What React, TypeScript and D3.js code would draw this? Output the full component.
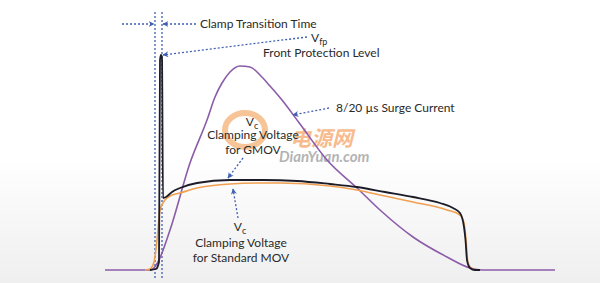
import React from "react";
import * as d3 from "d3";

// time axis (arbitrary µs-like units) and amplitude (arbitrary units)
const surgeCurrent: [number, number][] = [
  [0, 0], [8, 0], [9, 0], [9.8, 1], [10.6, 4], [13, 20], [17, 53.5], [20.4, 75],
  [22, 86.5], [23.4, 93.5], [25, 99], [27, 102], [29, 101.5], [31, 97.5],
  [33, 92], [35.4, 85], [39, 73], [44.4, 55], [50.4, 41], [55, 30],
  [61.6, 16.5], [68.4, 6.5], [73, 1], [75.4, 0], [90, 0],
];
const gmovVoltage: [number, number][] = [
  [9, 0], [10.2, 0.5], [10.8, 4], [11, 105], [11.2, 107.5], [11.4, 106],
  [11.6, 36], [12.2, 36.5], [13.4, 39], [15, 41], [18.4, 43.5], [25, 45],
  [31.6, 45], [38.4, 44.5], [45, 43], [50.4, 41.5], [56, 39], [61.6, 36.5],
  [67, 33.5], [69.6, 31], [71, 28.5], [71.8, 21.5], [72.1, 15], [72.4, 5],
  [73, 1], [74, 0], [75, 0],
];
const movVoltage: [number, number][] = [
  [8, 0], [9, 0.5], [9.8, 4], [10.4, 15], [11, 30], [12, 35], [13, 37],
  [15, 38.5], [18.4, 41], [25, 43], [31.6, 43.5], [35, 43.5], [45, 42],
  [50.4, 40], [56, 37], [61.6, 34], [68.4, 30], [71, 27.5], [71.8, 23.5],
  [72.2, 15], [72.6, 3.5], [73.6, 0.5], [74.6, 0],
];
const transitionMarks = [10, 11.4];
const labels = {
  transition: "Clamp Transition Time",
  vfpSub: "fp",
  vfp: "Front Protection Level",
  surge: "8/20 µs Surge Current",
  gmov: ["Clamping Voltage", "for GMOV"],
  mov: ["Clamping Voltage", "for Standard MOV"],
};

const W = 600;
const H = 283;
const x = d3.scaleLinear().domain([0, 90]).range([105, 555]);
const y = d3.scaleLinear().domain([0, 107.5]).range([270, 55]);
const line = d3
  .line<[number, number]>()
  .x((d) => x(d[0]))
  .y((d) => y(d[1]))
  .curve(d3.curveMonotoneX);

const BLUE = "#3f5fb0";
const TXT = "#2a2a2a";
const FONT = "Lato, 'Open Sans', sans-serif";

const Arrow = ({ x1, y1, x2, y2 }: { x1: number; y1: number; x2: number; y2: number }) => (
  <line
    x1={x1}
    y1={y1}
    x2={x2}
    y2={y2}
    stroke={BLUE}
    strokeWidth={1.3}
    strokeDasharray="2,2"
    markerEnd="url(#ah)"
  />
);

export default function App() {
  const xa = x(transitionMarks[0]);
  const xb = x(transitionMarks[1]);
  const peak = gmovVoltage[4];
  return (
    <svg
      width={W}
      height={H}
      style={{ position: "absolute", left: 0, top: 0, display: "block" }}
      fontFamily={FONT}
    >
      <defs>
        <linearGradient id="bg" x1="0" y1="0" x2="0" y2="1">
          <stop offset="0" stopColor="#ffffff" />
          <stop offset="0.55" stopColor="#ffffff" />
          <stop offset="1" stopColor="#efefef" />
        </linearGradient>
        <marker id="ah" viewBox="0 0 10 10" refX="9" refY="5" markerWidth="6" markerHeight="6" orient="auto-start-reverse" markerUnits="userSpaceOnUse">
          <path d="M0,0 L10,5 L0,10 L3,5 Z" fill={BLUE} />
        </marker>
      </defs>
      <rect width={W} height={H} fill="url(#bg)" />

      {/* watermark */}
      <g opacity={0.5}>
        <ellipse cx={245} cy={130} rx={20} ry={17} fill="none" stroke="#f08a30" strokeWidth={6} />
        <text x={290} y={146} fontSize={21} fontWeight={700} fontStyle="italic" fill="#f07a20" fontFamily="'Noto Sans CJK SC', sans-serif">电源网</text>
        <text x={279} y={162} fontSize={15} fontWeight={700} fontStyle="italic" fill="#6a6a6a">DianYuan.com</text>
      </g>

      {/* transition markers */}
      {transitionMarks.map((t, i) => (
        <line key={i} x1={x(t)} x2={x(t)} y1={12} y2={278} stroke={BLUE} strokeWidth={1.3} strokeDasharray="2,2" />
      ))}
      <Arrow x1={122} y1={24} x2={xa - 1} y2={24} />
      <Arrow x1={196} y1={24} x2={xb + 1} y2={24} />
      <text x={200} y={28} fontSize={12} fill={TXT}>{labels.transition}</text>

      {/* curves */}
      <path d={line(surgeCurrent) || ""} fill="none" stroke="#8b5ca8" strokeWidth={1.6} />
      <path d={line(movVoltage) || ""} fill="none" stroke="#f0a050" strokeWidth={1.6} />
      <path d={line(gmovVoltage) || ""} fill="none" stroke="#1c1c28" strokeWidth={1.8} />

      {/* Vfp annotation */}
      <Arrow x1={307} y1={37} x2={x(peak[0]) + 2} y2={y(peak[1])} />
      <text x={311} y={42} fontSize={12} fill={TXT}>
        V<tspan fontSize={9} dy={3}>{labels.vfpSub}</tspan>
      </text>
      <text x={263} y={57} fontSize={12} fill={TXT}>{labels.vfp}</text>

      {/* Surge current */}
      <Arrow x1={329} y1={108} x2={293} y2={115} />
      <text x={336} y={112} fontSize={12} fill={TXT}>{labels.surge}</text>

      {/* GMOV */}
      <text x={252} y={126} fontSize={12} fill={TXT} textAnchor="middle">
        V<tspan fontSize={9} dy={3}>c</tspan>
      </text>
      {labels.gmov.map((s, i) => (
        <text key={s} x={253} y={139 + i * 15} fontSize={12} fill={TXT} textAnchor="middle">{s}</text>
      ))}
      <Arrow x1={243} y1={158} x2={228} y2={178} />

      {/* Standard MOV */}
      <Arrow x1={238} y1={218} x2={233} y2={189} />
      <text x={240} y={231} fontSize={12} fill={TXT} textAnchor="middle">
        V<tspan fontSize={9} dy={3}>c</tspan>
      </text>
      {labels.mov.map((s, i) => (
        <text key={s} x={241} y={247 + i * 15} fontSize={12} fill={TXT} textAnchor="middle">{s}</text>
      ))}
    </svg>
  );
}
